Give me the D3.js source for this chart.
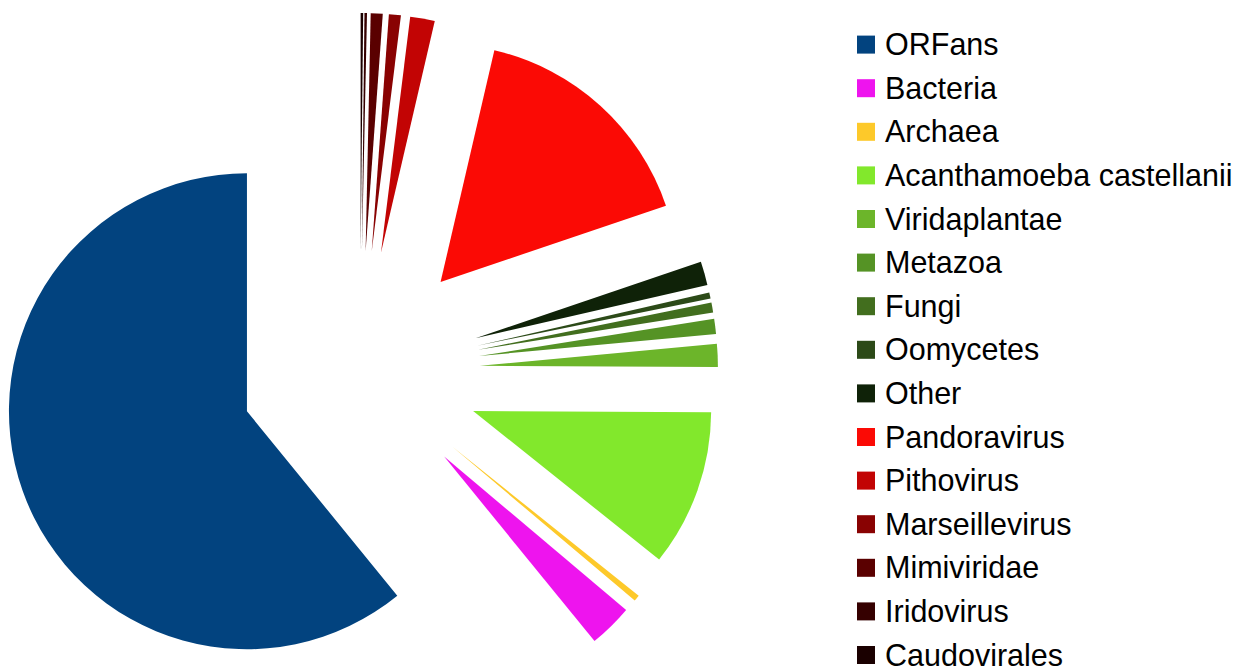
<!DOCTYPE html>
<html>
<head>
<meta charset="utf-8">
<script src="https://cdn.jsdelivr.net/npm/d3@7/dist/d3.min.js"></script>
<style>
  html, body { margin: 0; padding: 0; background: #ffffff; }
  svg { display: block; }
</style>
</head>
<body>
<svg id="chart" width="1247" height="671"></svg>
<script>
// ---- data (percent of genes) ----
const categories = ["ORFans", "Bacteria", "Archaea", "Acanthamoeba castellanii", "Viridaplantae",
  "Metazoa", "Fungi", "Oomycetes", "Other", "Pandoravirus", "Pithovirus", "Marseillevirus",
  "Mimiviridae", "Iridovirus", "Caudovirales"];
const values = [60.89, 2.97, 0.42, 10.64, 1.56, 1.03, 0.67, 0.42, 1.61, 16.17, 1.67, 0.81, 0.81, 0.17, 0.17];
const colors = ["#02437f", "#ee14ee", "#fdc92a", "#82e82c", "#6cb52a", "#559325", "#426e1e",
  "#2c4a18", "#0f2208", "#fb0a05", "#c20404", "#890202", "#5a0000", "#350000", "#1a0000"];

const svg = d3.select("#chart");
const cx = 360, cy = 371, R = 238, explode = 120;

const data = categories.map((c, i) => ({ name: c, value: values[i], color: colors[i] }));

const pie = d3.pie().sort(null).value(d => d.value)
  .startAngle(2 * Math.PI).endAngle(0);
const arc = d3.arc().innerRadius(0).outerRadius(R);

const g = svg.append("g").attr("transform", `translate(${cx},${cy})`);
g.selectAll("path").data(pie(data)).join("path")
  .attr("d", arc)
  .attr("fill", d => d.data.color)
  .attr("transform", d => {
    const m = (d.startAngle + d.endAngle) / 2;
    return `translate(${Math.sin(m) * explode},${-Math.cos(m) * explode})`;
  });

// ---- legend ----
const legX = 857, legY0 = 44.6, legStep = 43.6, sw = 18;
const leg = svg.append("g");
const rows = leg.selectAll("g").data(data).join("g")
  .attr("transform", (d, i) => `translate(${legX},${legY0 + i * legStep})`);
rows.append("rect")
  .attr("x", 0).attr("y", -sw / 2).attr("width", sw).attr("height", sw)
  .attr("fill", d => d.color);
rows.append("text")
  .attr("x", 28).attr("y", 10.5)
  .attr("font-family", "'Liberation Sans', Arial, sans-serif")
  .attr("font-size", 30.5)
  .attr("fill", "#000")
  .text(d => d.name);
</script>
</body>
</html>
